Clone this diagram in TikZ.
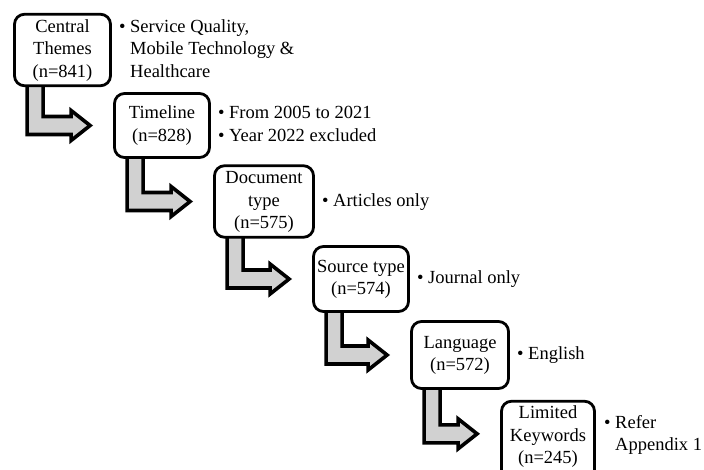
\documentclass[tikz,border=0pt]{standalone}
\usepackage{fontspec}
\setmainfont{Liberation Serif}
\usetikzlibrary{calc}
\pgfdeclarelayer{background}
\pgfsetlayers{background,main}
\newcommand\flowarrow[2]{%
  \draw[flow] let \p1=(#1.south west), \p2=(#2) in
    (\x1+14pt,\y1+6pt) -- (\x1+14pt,\y2-9pt) -- (\x2-42pt,\y2-9pt) --
    (\x2-42pt,\y2-15pt) -- (\x2-23pt,\y2) -- (\x2-42pt,\y2+15pt) --
    (\x2-42pt,\y2+9pt) -- (\x1+30pt,\y2+9pt) -- (\x1+30pt,\y1+6pt) -- cycle;}
\newcommand\ctab[1]{\begin{tabular}{@{}c@{}}#1\end{tabular}}
\newcommand\ltab[1]{\begin{tabular}{@{}l@{}}#1\end{tabular}}
\begin{document}
\begin{tikzpicture}[x=1pt,y=-1pt,
  stage/.style={draw, line width=2.8pt, rounded corners=10pt, fill=white,
    inner sep=2pt, minimum width=96pt,
    font=\fontsize{18.5}{22.5}\selectfont},
  note/.style={anchor=west, inner sep=0pt,
    font=\fontsize{18.5}{22.5}\selectfont},
  flow/.style={draw, line width=3.6pt, fill=black!18, miter limit=10}
]
\useasboundingbox (0,0) rectangle (704,469);
\node[stage, minimum height=71pt] (b1) at (62.5,50) {\ctab{Central\\Themes\\(n=841)}};
\node[stage, minimum height=64pt, minimum width=95pt] (b2) at (162,125.5) {\ctab{Timeline\\(n=828)}};
\node[stage, minimum height=70pt, minimum width=99pt] (b3) at (264,201.5) {\ctab{Document\\type\\(n=575)}};
\node[stage, minimum height=65pt, minimum width=95pt] (b4) at (361,279) {\ctab{Source type\\(n=574)}};
\node[stage, minimum height=67pt, minimum width=97pt] (b5) at (460,355) {\ctab{Language\\(n=572)}};
\node[stage, minimum height=73pt, minimum width=93pt] (b6) at (548,442.6) {\ctab{Limited\\Keywords\\(n=245)\rule[-18pt]{0pt}{18pt}}};
\coordinate (b6in) at ($(b6.north west)+(0,34)$);

\node[note] (t1) at ($(b1.east)+(7,0)$) {\ltab{\textbullet\ Service Quality,\\\hspace{0.6em}Mobile Technology \&\\\hspace{0.6em}Healthcare}};
\node[note] (t2) at ($(b2.east)+(7,0)$) {\ltab{\textbullet\ From 2005 to 2021\\\textbullet\ Year 2022 excluded}};
\node[note] (t3) at ($(b3.east)+(7,0)$) {\ltab{\textbullet\ Articles only}};
\node[note] (t4) at ($(b4.east)+(7,0)$) {\ltab{\textbullet\ Journal only}};
\node[note] (t5) at ($(b5.east)+(7,0)$) {\ltab{\textbullet\ English}};
\node[note] (t6) at ($(b6.north east)+(8,35)$) {\ltab{\textbullet\ Refer\\\hspace{0.6em}Appendix 1}};

\begin{pgfonlayer}{background}
\flowarrow{b1}{b2.west}
\flowarrow{b2}{b3.west}
\flowarrow{b3}{b4.west}
\flowarrow{b4}{b5.west}
\flowarrow{b5}{b6in}
\end{pgfonlayer}
\end{tikzpicture}
\end{document}
